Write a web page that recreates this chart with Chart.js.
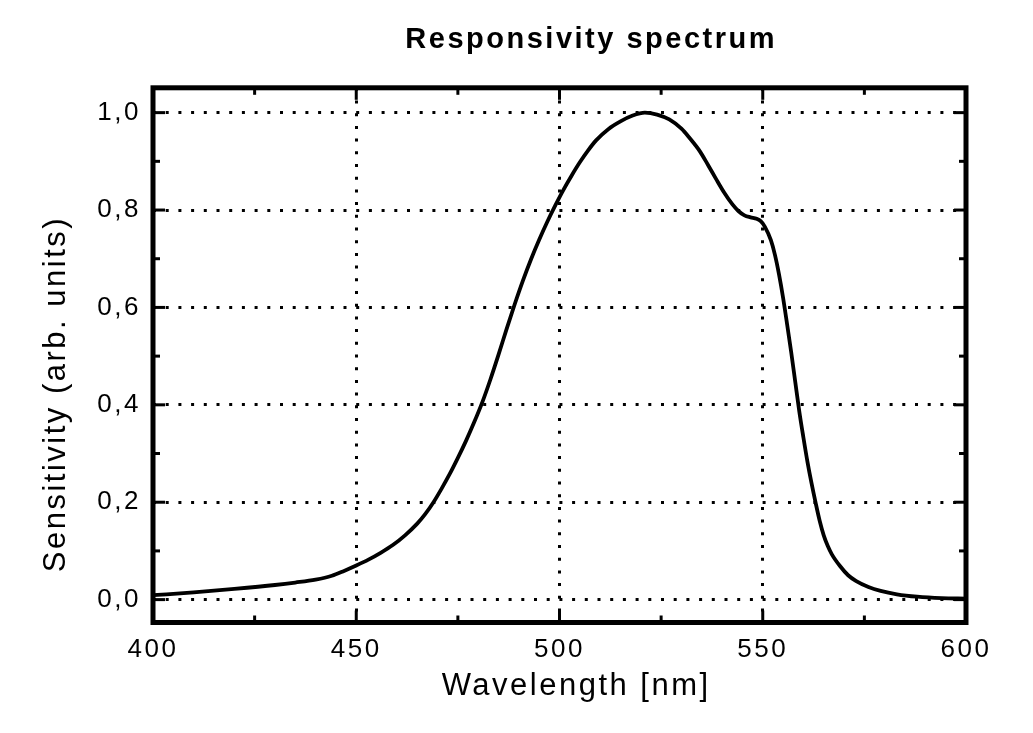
<!DOCTYPE html>
<html>
<head>
<meta charset="utf-8">
<script src="https://cdn.jsdelivr.net/npm/chart.js@4/dist/chart.umd.min.js"></script>
<style>
html,body{margin:0;padding:0;background:#fff;}
#wrap{width:1033px;height:733px;}
</style>
</head>
<body>
<div id="wrap"><canvas id="c" width="1033" height="733"></canvas></div>
<script>
// ---- data ----
const wavelengths = [400,410,420,430,435,440,444,447,450,453,456,459,462,465,467,469,471,473,475,477,479,481,483,485,487,489,491,493,495,497,499,501,503,505,507,509,512,515,518,521,524,527,530,532,534.5,536.5,538.5,540.5,542.5,544,545.5,547,548.5,549.5,550.5,552,553,554,555,556,557,558,559,560,561,562,563,564,565,566,567,569,571,573,576,579,583,588,594,600];
const sensitivity = [0.009,0.015,0.022,0.030,0.035,0.041,0.049,0.059,0.070,0.082,0.096,0.112,0.132,0.156,0.176,0.200,0.228,0.258,0.291,0.326,0.364,0.405,0.452,0.503,0.556,0.607,0.655,0.699,0.739,0.776,0.810,0.842,0.871,0.898,0.922,0.943,0.966,0.982,0.994,1.000,0.996,0.986,0.967,0.948,0.921,0.893,0.864,0.836,0.812,0.798,0.789,0.785,0.782,0.777,0.766,0.738,0.708,0.668,0.620,0.565,0.508,0.447,0.386,0.333,0.283,0.239,0.199,0.162,0.132,0.110,0.093,0.069,0.050,0.038,0.026,0.018,0.011,0.006,0.003,0.002];

const xMajorTicks = [400,450,500,550,600];
const xMinorTicks = [425,475,525,575];
const yMajorTicks = [0,0.2,0.4,0.6,0.8,1.0];
const yMinorTicks = [0.1,0.3,0.5,0.7,0.9];
const yTickLabels = ['0,0','0,2','0,4','0,6','0,8','1,0'];
const xTickLabels = ['400','450','500','550','600'];

const titleText = '      Responsivity spectrum';
const xTitle = '   Wavelength [nm]';
const yTitle = 'Sensitivity (arb. units)       ';

const points = wavelengths.map((w,i)=>({x:w,y:sensitivity[i]}));

const LS = '2.5px';
const spacingPlugin = {
  id:'spacing',
  beforeInit(c){c.ctx.letterSpacing=LS;},
  beforeUpdate(c){c.ctx.letterSpacing=LS;},
  beforeLayout(c){c.ctx.letterSpacing=LS;},
  beforeDraw(c){c.ctx.letterSpacing=LS;},
  resize(c){c.ctx.letterSpacing=LS;}
};

const framePlugin = {
  id:'frame',
  afterDraw(c){
    const ctx=c.ctx, a=c.chartArea, xs=c.scales.x, ys=c.scales.y;
    ctx.save();
    ctx.strokeStyle='#000';
    ctx.lineCap='butt';
    ctx.lineWidth=3;
    const drawX=(vals,len)=>vals.forEach(v=>{
      const p=xs.getPixelForValue(v);
      ctx.beginPath();ctx.moveTo(p,a.bottom);ctx.lineTo(p,a.bottom-len);ctx.stroke();
      ctx.beginPath();ctx.moveTo(p,a.top);ctx.lineTo(p,a.top+len);ctx.stroke();
    });
    const drawY=(vals,len)=>vals.forEach(v=>{
      const p=ys.getPixelForValue(v);
      ctx.beginPath();ctx.moveTo(a.left,p);ctx.lineTo(a.left+len,p);ctx.stroke();
      ctx.beginPath();ctx.moveTo(a.right,p);ctx.lineTo(a.right-len,p);ctx.stroke();
    });
    drawX(xMajorTicks,12);drawX(xMinorTicks,7);
    drawY(yMajorTicks,12);drawY(yMinorTicks,7);
    ctx.lineWidth=5;
    ctx.lineJoin='miter';
    ctx.strokeRect(a.left,a.top,a.right-a.left,a.bottom-a.top);
    ctx.restore();
  }
};

const FAM = '"Liberation Sans", Arial, sans-serif';

new Chart(document.getElementById('c'),{
  type:'line',
  data:{datasets:[{
    data:points,
    borderColor:'#000',
    borderWidth:3.8,
    pointRadius:0,
    fill:false,
    cubicInterpolationMode:'monotone'
  }]},
  options:{
    responsive:false,
    animation:false,
    devicePixelRatio:1,
    layout:{padding:{left:0,right:67,top:0,bottom:0}},
    plugins:{
      legend:{display:false},
      tooltip:{enabled:false},
      title:{
        display:true,
        text:titleText,
        fullSize:false,
        color:'#000',
        font:{family:FAM,size:29,weight:'bold',lineHeight:1.2},
        padding:{top:23,bottom:30}
      }
    },
    scales:{
      x:{
        type:'linear',
        min:400,max:600,
        afterBuildTicks(s){s.ticks=xMajorTicks.map(v=>({value:v}));},
        afterFit(s){s.height=110.5;},
        ticks:{
          color:'#000',
          padding:12,
          maxRotation:0,
          autoSkip:false,
          font:{family:FAM,size:26},
          callback:(v)=>{const i=xMajorTicks.indexOf(v);return i>=0?xTickLabels[i]:'';}
        },
        grid:{color:'#000',lineWidth:3,drawTicks:false,tickLength:0},
        border:{display:false,dash:[3,9.7]},
        title:{
          display:true,text:xTitle,color:'#000',
          font:{family:FAM,size:31,lineHeight:1.2},
          padding:{top:0,bottom:28}
        }
      },
      y:{
        type:'linear',
        min:-0.047,max:1.051,
        afterBuildTicks(s){s.ticks=yMajorTicks.map(v=>({value:v}));},
        afterFit(s){s.width=153;},
        ticks:{
          color:'#000',
          padding:12,
          font:{family:FAM,size:26},
          callback:(v)=>{const i=yMajorTicks.findIndex(t=>Math.abs(t-v)<1e-9);return i>=0?yTickLabels[i]:'';}
        },
        grid:{color:'#000',lineWidth:3,drawTicks:false,tickLength:0},
        border:{display:false,dash:[3,9.7]},
        title:{
          display:true,text:yTitle,color:'#000',
          font:{family:FAM,size:31,lineHeight:1.2},
          padding:{top:37.5,bottom:0}
        }
      }
    }
  },
  plugins:[spacingPlugin,framePlugin]
});
</script>
</body>
</html>
